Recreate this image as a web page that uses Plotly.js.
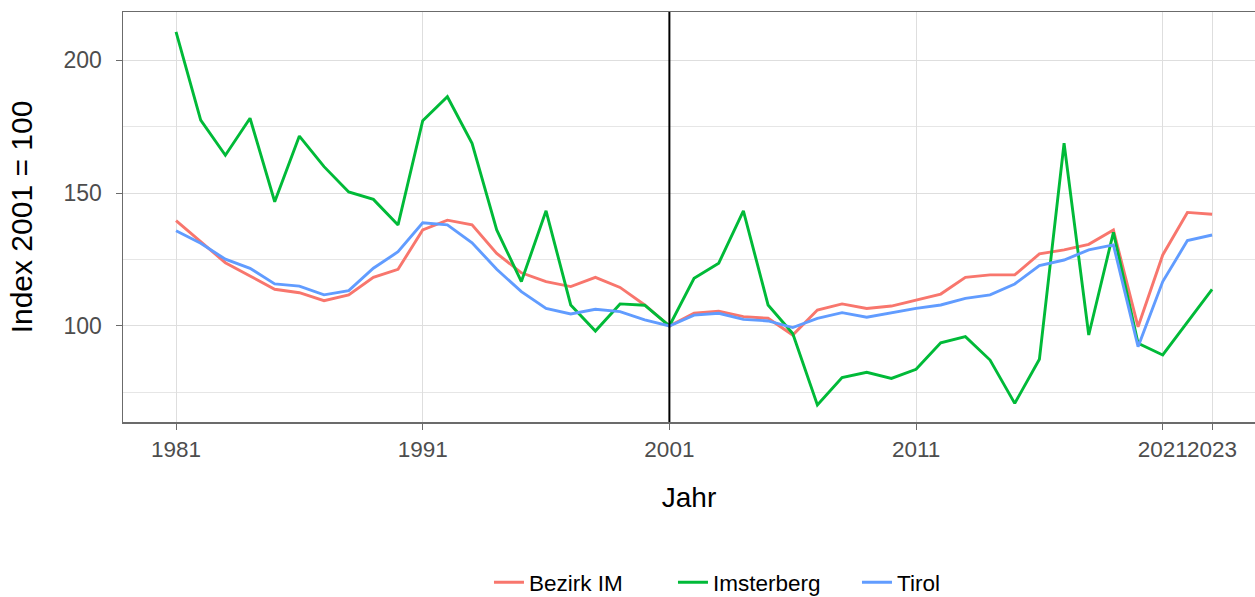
<!DOCTYPE html>
<html>
<head>
<meta charset="utf-8">
<script src="https://cdn.plot.ly/plotly-3.0.1.min.js"></script>
<style>html,body{margin:0;padding:0;background:#fff;}#chart{width:1255px;height:597px;}</style>
</head>
<body>
<div id="chart"></div>
<script>
const years = [1981,1982,1983,1984,1985,1986,1987,1988,1989,1990,1991,1992,1993,1994,1995,1996,1997,1998,1999,2000,2001,2002,2003,2004,2005,2006,2007,2008,2009,2010,2011,2012,2013,2014,2015,2016,2017,2018,2019,2020,2021,2022,2023];
const bezirkIM = [139.6,131.7,123.8,118.8,113.8,112.5,109.5,111.7,118.3,121.3,136.1,139.8,138.0,127.3,120.0,116.7,114.8,118.3,114.5,107.9,100,104.8,105.6,103.5,102.9,96.6,106.0,108.3,106.6,107.5,109.8,112.0,118.3,119.2,119.2,127.1,128.6,130.7,136.1,99.7,126.7,142.7,142.0];
const imsterberg = [210.6,177.4,164.2,178.1,146.7,171.4,159.9,150.4,147.6,138.0,177.2,186.2,168.7,136.1,116.7,143.3,107.9,98.1,108.3,107.8,100,117.9,123.6,143.3,107.9,97.2,70.3,80.6,82.6,80.3,83.7,93.7,96.0,87.2,70.9,87.5,168.7,96.6,135.2,93.5,89.1,101.6,113.8];
const tirol = [135.8,131.1,125.1,121.7,115.8,115.0,111.7,113.3,121.7,127.9,138.8,138.0,131.3,121.3,112.9,106.6,104.5,106.3,105.4,102.3,100,104.1,104.8,102.5,101.9,99.4,102.9,105.0,103.3,105.0,106.6,107.9,110.4,111.7,115.8,122.7,124.8,128.6,130.5,92.2,116.7,132.1,134.2];
const seriesNames = ["Bezirk IM","Imsterberg","Tirol"];
const xTicks = [1981,1991,2001,2011,2021,2023];
const yTicks = [100,150,200];
const yMinorTicks = [75,125,175];
const refYear = 2001;

const colors = ["#F8766D","#00BA38","#619CFF"];
const series = [bezirkIM, imsterberg, tirol];
const traces = series.map((s,i)=>({
  x: years, y: s, type: 'scatter', mode: 'lines', name: seriesNames[i],
  line: {color: colors[i], width: 2.9}
}));

const font = "Liberation Sans, Arial, sans-serif";
const layout = {
  width: 1255, height: 597,
  margin: {l:123, r:0, t:12, b:175, pad:0, autoexpand:false},
  paper_bgcolor: '#fff', plot_bgcolor: '#fff',
  font: {family: font, color: '#000'},
  showlegend: true,
  legend: {orientation:'h', xref:'paper', x:0.3233, xanchor:'left', yref:'container', y:0.024, yanchor:'middle',
           font:{size:22.5, color:'#000'}, entrywidth:139, entrywidthmode:'pixels', tracegroupgap:0},
  xaxis: {
    automargin: false,
    range: [1978.85, 2024.74],
    tickmode: 'array', tickvals: xTicks, ticktext: xTicks.map(String),
    tickangle: 0,
    showgrid: true, gridcolor: '#dedede', gridwidth: 1,
    zeroline: false,
    showline: true, mirror: true, linecolor: '#6b6b6b', linewidth: 1.5,
    ticks: 'outside', ticklen: 6, tickcolor: '#6b6b6b', tickwidth: 1,
    tickfont: {size: 22.5, color: '#4D4D4D'},
    title: {text: 'Jahr', font: {size: 28, color: '#000'}, standoff: 27}
  },
  yaxis: {
    automargin: false,
    range: [63.9, 218.05],
    tickmode: 'array', tickvals: yTicks, ticktext: yTicks.map(String),
    showgrid: true, gridcolor: '#dedede', gridwidth: 1,
    minor: {tickmode: 'array', tickvals: yMinorTicks, showgrid: true, gridcolor: '#e6e6e6', gridwidth: 1, ticks: ''},
    zeroline: false,
    showline: true, mirror: false, linecolor: '#6b6b6b', linewidth: 1.5,
    ticks: 'outside', ticklen: 6, tickcolor: '#6b6b6b', tickwidth: 1,
    ticklabelstandoff: 9,
    tickfont: {size: 23, color: '#4D4D4D'},
    title: {text: 'Index 2001 = 100', font: {size: 30, color: '#000'}, standoff: 22}
  },
  shapes: [{type:'line', xref:'x', yref:'paper', x0:refYear, x1:refYear, y0:0, y1:1,
            line:{color:'#000', width:2}}]
};
Plotly.newPlot('chart', traces, layout, {staticPlot:true, displayModeBar:false});
</script>
</body>
</html>
